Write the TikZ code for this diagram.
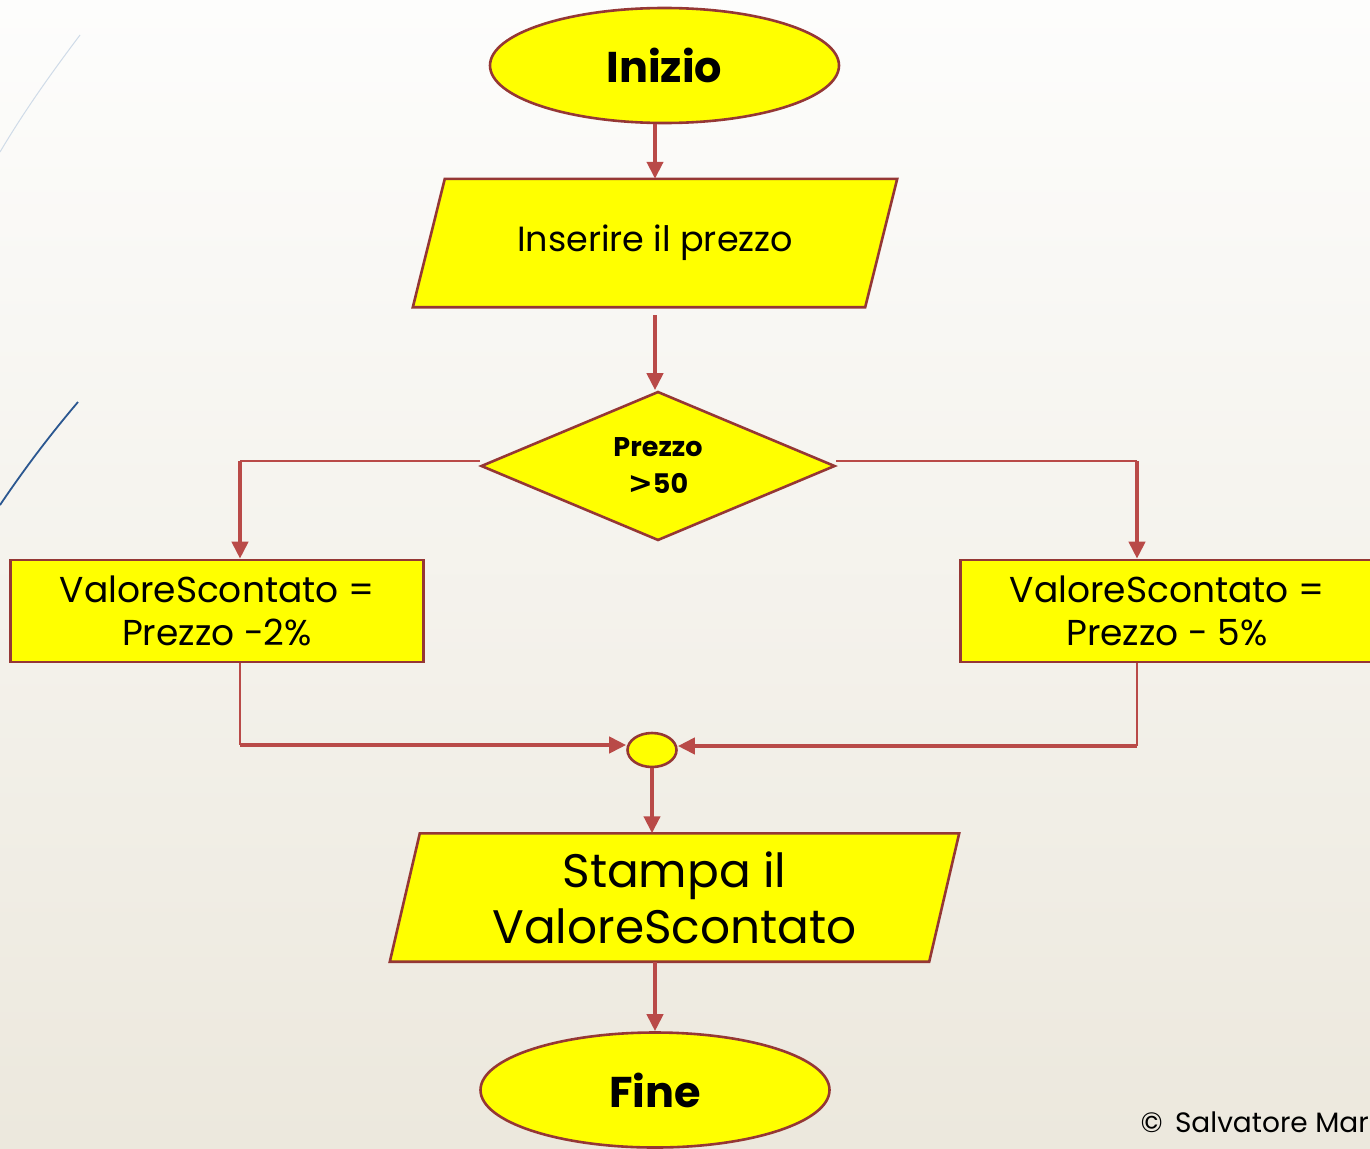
\documentclass[tikz,border=0pt]{standalone}
\usepackage{fontspec}
\setmainfont{Poppins}
\newfontfamily\symfont{DejaVu Sans}
\usetikzlibrary{shapes.geometric,arrows.meta,calc}
\definecolor{bordo}{HTML}{953735}
\definecolor{freccia}{HTML}{B94A48}
\definecolor{giallo}{HTML}{FFFF00}
\definecolor{bgtop}{HTML}{FDFDFC}
\definecolor{bgbot}{HTML}{ECE8DD}
\definecolor{linea1}{HTML}{CFDBE8}
\definecolor{linea2}{HTML}{2B5790}
\tikzset{
  box/.style={draw=bordo,fill=giallo,line width=2.6pt,inner sep=0pt,align=center,text=black},
  term/.style={box,shape=ellipse,minimum width=349,minimum height=115,font=\fontsize{43}{50}\selectfont\bfseries},
  iotext/.style={inner sep=0pt,align=center,text=black,minimum height=128},
  iobox/.style={draw=bordo,fill=giallo,line width=2.6pt,line join=miter},
  proc/.style={box,shape=rectangle,minimum width=413,minimum height=102,font=\fontsize{36}{43}\selectfont},
  dec/.style={box,shape=diamond,minimum width=354,minimum height=149,aspect=2.4,font=\fontsize{27}{37}\selectfont\bfseries},
  arr/.style={draw=freccia,line width=4pt,-{Triangle[length=17pt,width=16pt]}},
  thinl/.style={draw=freccia,line width=2pt},
}
\begin{document}
\begin{tikzpicture}[x=1pt,y=-1pt]
\useasboundingbox (0,0) rectangle (1370,1148);
\clip (0,0) rectangle (1370,1148);
\shade[top color=bgtop,bottom color=bgbot] (0,0) rectangle (1370,1148);
% decorative lines
\draw[color=linea1,line width=1pt] (80,35) .. controls (50,75) and (25,110) .. (0,152);
\draw[color=linea2,line width=1.8pt] (78,402) .. controls (50,435) and (25,468) .. (0,505);
% nodes
\node[term] (start) at (664.5,65.5) {Inizio};
\node[iotext,minimum width=452,font=\fontsize{35}{40}\selectfont] (in1) at (655,243) {};
\filldraw[iobox] ($(in1.north west)+(16,0)$) -- ($(in1.north east)+(16,0)$) -- ($(in1.south east)+(-16,0)$) -- ($(in1.south west)+(-16,0)$) -- cycle;
\node[iotext,minimum width=452,font=\fontsize{35}{40}\selectfont] at (in1.center) {Inserire il prezzo};
\node[dec] (d) at (658,466) {Prezzo\\[0pt]{\symfont\fontsize{30}{37}\selectfont >}50};
\node[proc] (left) at (217,611) {ValoreScontato =\\Prezzo -2\%};
\node[proc] (right) at (1167,611) {ValoreScontato =\\Prezzo - 5\%};
\node[box,shape=ellipse,minimum width=49,minimum height=34] (join) at (652,750) {};
\node[iotext,minimum width=539] (out) at (674.5,897.5) {};
\filldraw[iobox] ($(out.north west)+(15,0)$) -- ($(out.north east)+(15,0)$) -- ($(out.south east)+(-15,0)$) -- ($(out.south west)+(-15,0)$) -- cycle;
\node[iotext,minimum width=539,font=\fontsize{47}{56}\selectfont] at (out.center) {Stampa il\\ValoreScontato};
\node[term] (end) at (655,1090) {Fine};
\node[anchor=base east,font=\fontsize{28}{34}\selectfont,inner sep=0pt] (copy) at (1369,1132) {©\, Salvatore Mar};
% coordinates
\coordinate (lt) at (240,461);
\coordinate (rt) at (1137,461);
\coordinate (lb) at (240,745);
\coordinate (rb) at (1137,746);
% connectors
\draw[arr] (start.south -| in1.north) -- (in1.north);
\draw[arr,shorten <=8pt] (in1.south) -- (in1.south |- d.north);
\draw[thinl] (lt -| d.west) -- (lt);
\draw[arr] (lt) -- (lt |- left.north);
\draw[thinl] (rt -| d.east) -- (rt);
\draw[arr] (rt) -- (rt |- right.north);
\draw[thinl] (lt |- left.south) -- (lb);
\draw[arr] (lb) -- (lb -| join.west);
\draw[thinl] (rt |- right.south) -- (rb);
\draw[arr] (rb) -- (rb -| join.east);
\draw[arr] (join.south) -- (join.south |- out.north);
\draw[arr] (end.north |- out.south) -- (end.north);
\end{tikzpicture}
\end{document}
